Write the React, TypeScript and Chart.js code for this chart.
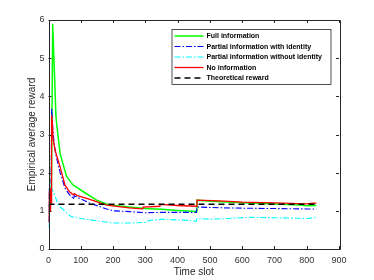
import React, { useEffect, useRef } from "react";
import { Chart, registerables } from "chart.js";

Chart.register(...registerables);

const seriesLabels = [
  "Full information",
  "Partial information with identity",
  "Partial information without identity",
  "No information",
  "Theoretical reward",
];

const xTicks = [0, 100, 200, 300, 400, 500, 600, 700, 800, 900];
const yTicks = [0, 1, 2, 3, 4, 5, 6];

const fullX = [1, 5, 9, 13, 23, 25, 36, 56, 72, 76, 90, 108, 149, 190, 250, 300, 350, 400, 458, 460, 500, 550, 600, 700, 780, 800, 830];
const fullY = [1.1, 1.2, 1.5, 5.9, 3.5, 3.3, 2.5, 1.9, 1.72, 1.68, 1.6, 1.5, 1.28, 1.15, 1.1, 1.06, 1.04, 1.01, 0.98, 1.28, 1.25, 1.23, 1.21, 1.18, 1.15, 1.13, 1.14];

const withIdX = [1, 2, 3, 4, 5, 6, 7, 8, 10, 12, 16, 22, 36, 51, 65, 72, 77, 80, 90, 128, 180, 200, 250, 300, 350, 400, 458, 460, 530, 600, 700, 800, 830];
const withIdY = [0.7, 1.6, 1.3, 1.55, 1.2, 1.5, 1.3, 1.6, 3.7, 3.3, 2.9, 2.5, 2.0, 1.6, 1.42, 1.38, 1.3, 1.4, 1.35, 1.2, 1.05, 1.0, 0.98, 0.95, 0.96, 0.96, 0.96, 1.1, 1.08, 1.07, 1.06, 1.05, 1.05];

const withoutIdX = [1, 3, 5, 8, 12, 20, 30, 50, 70, 100, 150, 200, 250, 300, 314, 350, 430, 458, 460, 500, 560, 620, 700, 800, 830];
const withoutIdY = [0.55, 1.0, 1.7, 1.6, 1.55, 1.4, 1.15, 1.0, 0.85, 0.8, 0.74, 0.68, 0.68, 0.7, 0.75, 0.78, 0.75, 0.73, 0.8, 0.78, 0.8, 0.83, 0.82, 0.8, 0.83];

const noInfoX = [1, 2, 3, 4, 5, 6, 7, 8, 9, 10, 12, 14, 20, 36, 51, 65, 77, 80, 90, 128, 180, 250, 292, 293, 345, 346, 400, 458, 460, 530, 600, 700, 800, 820, 830];
const noInfoY = [0.7, 1.5, 1.0, 1.6, 1.0, 1.5, 1.1, 1.6, 1.2, 3.5, 3.3, 2.9, 2.6, 2.15, 1.68, 1.5, 1.42, 1.45, 1.4, 1.3, 1.15, 1.08, 1.05, 1.1, 1.12, 1.17, 1.14, 1.12, 1.28, 1.26, 1.23, 1.21, 1.18, 1.2, 1.2];

const theoryX = [0, 830];
const theoryY = [1.17, 1.17];

const colors = ["#00ff00", "#0000ff", "#00ffff", "#ff0000", "#000000"];
const dashes = [[], [6, 2, 1.5, 2], [6, 2, 1.5, 2], [], [6, 4]];
const widths = [1.5, 1.1, 1.1, 1.3, 1.5];

const FONT = "Arial, 'Liberation Sans', sans-serif";

const zip = (xs: number[], ys: number[]) => xs.map((x, i) => ({ x, y: ys[i] }));

const boxPlugin = {
  id: "boxTicks",
  afterDraw(chart: any) {
    const ctx = chart.ctx;
    const { left, right, top, bottom } = chart.chartArea;
    const xs = chart.scales.x;
    const ys = chart.scales.y;
    ctx.save();
    ctx.strokeStyle = "#262626";
    ctx.lineWidth = 1;
    ctx.beginPath();
    ctx.rect(Math.round(left) + 0.5, Math.round(top) + 0.5, Math.round(right - left), Math.round(bottom - top));
    ctx.stroke();
    ctx.beginPath();
    const tl = 3;
    xTicks.forEach((v) => {
      const px = Math.round(xs.getPixelForValue(v)) + 0.5;
      ctx.moveTo(px, bottom);
      ctx.lineTo(px, bottom - tl);
      ctx.moveTo(px, top);
      ctx.lineTo(px, top + tl);
    });
    yTicks.forEach((v) => {
      const py = Math.round(ys.getPixelForValue(v)) + 0.5;
      ctx.moveTo(left, py);
      ctx.lineTo(left + tl, py);
      ctx.moveTo(right, py);
      ctx.lineTo(right - tl, py);
    });
    ctx.stroke();

    // legend
    const bx = left + 123;
    const by = top + 9;
    const bw = 159;
    const bh = 55;
    ctx.fillStyle = "#ffffff";
    ctx.fillRect(bx, by, bw, bh);
    ctx.strokeStyle = "#262626";
    ctx.lineWidth = 0.8;
    ctx.strokeRect(bx + 0.5, by + 0.5, bw, bh);
    ctx.font = "bold 7px " + FONT;
    ctx.textBaseline = "middle";
    ctx.textAlign = "left";
    chart.data.datasets.forEach((ds: any, i: number) => {
      const ly = by + 7 + i * 10.5;
      ctx.beginPath();
      ctx.strokeStyle = ds.borderColor;
      ctx.lineWidth = ds.borderWidth;
      ctx.setLineDash(ds.borderDash || []);
      ctx.moveTo(bx + 3, ly);
      ctx.lineTo(bx + 32, ly);
      ctx.stroke();
      ctx.setLineDash([]);
      ctx.fillStyle = "#000000";
      ctx.fillText(ds.label, bx + 35, ly + 0.5);
    });
    ctx.restore();
  },
};

export default function App() {
  const ref = useRef<HTMLCanvasElement>(null);
  useEffect(() => {
    document.body.style.margin = "0";
    const xsArr = [fullX, withIdX, withoutIdX, noInfoX, theoryX];
    const ysArr = [fullY, withIdY, withoutIdY, noInfoY, theoryY];
    const orders = [4, 3, 2, 1, 0];
    const chart = new Chart(ref.current!, {
      type: "line",
      data: {
        datasets: seriesLabels.map((label, i) => ({
          label,
          data: zip(xsArr[i], ysArr[i]),
          borderColor: colors[i],
          borderWidth: widths[i],
          borderDash: dashes[i],
          pointRadius: 0,
          fill: false,
          tension: 0,
          order: orders[i],
        })),
      },
      options: {
        animation: false,
        responsive: false,
        devicePixelRatio: 1,
        layout: { padding: { left: 0, right: 35, top: 20, bottom: 0 } },
        plugins: { legend: { display: false }, tooltip: { enabled: false } },
        scales: {
          x: {
            type: "linear",
            min: 0,
            max: 900,
            afterBuildTicks: (s: any) => {
              s.ticks = xTicks.map((v) => ({ value: v }));
            },
            afterFit: (s: any) => {
              s.height = 31;
            },
            grid: { display: false, drawTicks: false },
            border: { display: false },
            ticks: { color: "#333333", font: { size: 9, family: FONT }, padding: 6, maxRotation: 0 },
            title: { display: true, text: "Time slot", color: "#262626", font: { size: 10, family: FONT }, padding: { top: 0, bottom: 1.5 } },
          },
          y: {
            type: "linear",
            min: 0,
            max: 6,
            afterBuildTicks: (s: any) => {
              s.ticks = yTicks.map((v) => ({ value: v }));
            },
            afterFit: (s: any) => {
              s.width = 48.5;
            },
            grid: { display: false, drawTicks: false },
            border: { display: false },
            ticks: { color: "#333333", font: { size: 9, family: FONT }, padding: 4 },
            title: { display: true, text: "Empirical average reward", color: "#262626", font: { size: 10, family: FONT }, padding: { top: 26, bottom: 0 } },
          },
        },
      },
      plugins: [boxPlugin],
    });
    return () => chart.destroy();
  }, []);
  return (
    <div style={{ width: 374, height: 280 }}>
      <canvas ref={ref} width={374} height={280} style={{ display: "block" }} />
    </div>
  );
}
